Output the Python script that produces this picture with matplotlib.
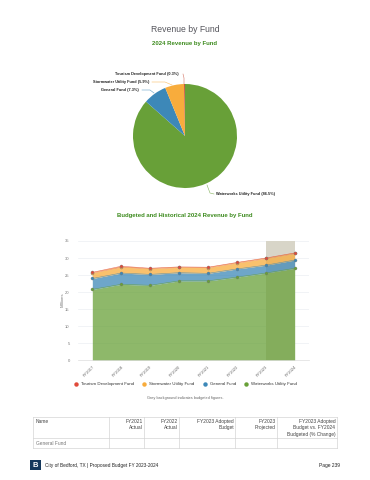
import numpy as np
import matplotlib
matplotlib.use('Agg')
import matplotlib.pyplot as plt
from matplotlib.patches import Rectangle

plt.rcParams['font.family'] = ['Liberation Sans', 'DejaVu Sans']

W, H = 370, 480

pie_labels = ['Waterworks Utility Fund (86.5%)', 'General Fund (7.3%)',
              'Stormwater Utility Fund (5.9%)', 'Tourism Development Fund (0.3%)']
pie_values = [86.5, 7.3, 5.9, 0.3]
pie_colors = ['#68a038', '#3d88b8', '#f8ac3c', '#c8503c']

years = ['FY2017', 'FY2018', 'FY2019', 'FY2020', 'FY2021', 'FY2022', 'FY2023', 'FY2024']
waterworks = [20.8, 22.3, 22.0, 23.3, 23.3, 24.4, 25.6, 27.0]
general = [3.2, 3.3, 3.2, 2.4, 2.2, 2.4, 2.3, 2.4]
stormwater = [1.7, 1.8, 1.7, 1.6, 1.7, 1.8, 2.0, 2.0]
tourism = [0.1, 0.2, 0.1, 0.1, 0.1, 0.1, 0.1, 0.1]
y_ticks = [0, 5, 10, 15, 20, 25, 30, 35]

table_header = ['Name', 'FY2021\nActual', 'FY2022\nActual', 'FY2023 Adopted\nBudget',
                'FY2023\nProjected', 'FY2023 Adopted\nBudget vs. FY2024\nBudgeted (% Change)']
table_row = 'General Fund'

fig = plt.figure(figsize=(W / 100, H / 100), dpi=100)

# page layer in pixel coordinates
page = fig.add_axes([0, 0, 1, 1])
page.set_xlim(0, W)
page.set_ylim(H, 0)
page.axis('off')


def rect_px(left, top, right, bottom):
    return [left / W, 1 - bottom / H, (right - left) / W, (bottom - top) / H]


page.text(185, 30, 'Revenue by Fund', fontsize=6.2, color='#55555c', ha='center', va='center')
page.text(185, 44, '2024 Revenue by Fund', fontsize=4.3, fontweight='bold', color='#3d8b1e', ha='center', va='center')
page.text(185, 215, 'Budgeted and Historical 2024 Revenue by Fund', fontsize=4.3, fontweight='bold',
          color='#3d8b1e', ha='center', va='center')

# pie
ax_pie = fig.add_axes(rect_px(133, 84, 237, 188))
ax_pie.pie(pie_values, colors=pie_colors, startangle=90, counterclock=False, radius=1)
ax_pie.set_xlim(-1, 1)
ax_pie.set_ylim(-1, 1)

pie_text = [(216, 194, 'left'), (139, 90, 'right'), (149, 82, 'right'), (179, 74.5, 'right')]
leaders = [([207, 210, 214], [185, 193, 194]), ([142, 150, 154], [90, 90, 93]),
           ([152, 165, 172], [82, 82, 85]), ([183, 184, 184], [74, 78, 84])]
for lab, (tx, ty, ha), (lx, ly), col in zip(pie_labels, pie_text, leaders, pie_colors):
    page.text(tx, ty, lab, fontsize=2.75, color='#222222', ha=ha, va='center', fontweight='bold')
    page.plot(lx, ly, color=col, lw=0.4, alpha=0.8)

# stacked area
ax = fig.add_axes(rect_px(78, 241, 309, 360.3))
x = np.arange(len(years))
c1 = np.array(waterworks)
c2 = c1 + np.array(general)
c3 = c2 + np.array(stormwater)
c4 = c3 + np.array(tourism)
layers = [(np.zeros(len(x)), c1, '#68a038'), (c1, c2, '#3d88b8'), (c2, c3, '#f8ac3c'), (c3, c4, '#e04a3a')]
ax.axvspan(6, 7, color='#d8d5c8', lw=0, zorder=1)
for low, high, col in layers:
    ax.fill_between(x, low, high, color=col, alpha=0.75, lw=0, zorder=2)
    ax.plot(x, high, color=col, lw=0.4, alpha=0.8, zorder=3)
    ax.plot(x, high, 'o', ms=2.2, mfc=col, mec='#777777', mew=0.25, zorder=4)
ax.set_xlim(-0.495, 7.495)
ax.set_ylim(0, 35)
ax.set_xticks(x)
ax.set_xticklabels(years, rotation=45, ha='right', rotation_mode='anchor', fontsize=3, color='#666666')
ax.set_yticks(y_ticks)
ax.tick_params(axis='y', labelsize=3, labelcolor='#777777', length=0, pad=6)
ax.tick_params(axis='x', length=0, pad=3)
ax.grid(axis='y', color='#eceff3', lw=0.5)
ax.set_axisbelow(True)
for s in ['top', 'right', 'left']:
    ax.spines[s].set_visible(False)
ax.spines['bottom'].set_color('#dddddd')
ax.spines['bottom'].set_linewidth(0.5)
ax.patch.set_alpha(0)
page.text(63, 300, 'Millions', fontsize=3.2, color='#777777', rotation=90, ha='center', va='center')

# legend
legend_names = ['Tourism Development Fund', 'Stormwater Utility Fund', 'General Fund', 'Waterworks Utility Fund']
legend_colors = ['#e04a3a', '#f8ac3c', '#3d88b8', '#68a038']
legend_x = [75.7, 144.3, 205, 245.7]
for name, col, lx in zip(legend_names, legend_colors, legend_x):
    page.plot([lx], [384.3], 'o', ms=3.2, color=col, mew=0)
    page.text(lx + 5, 384.3, name, fontsize=3.2, color='#333333', va='center')

page.text(185, 398.5, 'Grey background indicates budgeted figures.', fontsize=2.8, color='#666666',
          ha='center', va='center')

# table
tx = [33.3, 109.3, 144.3, 179.3, 235.3, 277.3, 336.7]
ty = [416.7, 438.3, 447.7]
for v in tx:
    page.plot([v, v], [ty[0], ty[-1]], color='#d4d4d4', lw=0.5)
for v in ty:
    page.plot([tx[0], tx[-1]], [v, v], color='#d4d4d4', lw=0.5)
page.text(tx[0] + 2.5, 419, table_header[0], fontsize=3.5, color='#444444', va='top')
for i in range(1, 6):
    page.text(tx[i + 1] - 1.5, 419, table_header[i], fontsize=3.5, color='#444444', va='top',
              ha='right', linespacing=1.35)
page.text(tx[0] + 2.5, 443.2, table_row, fontsize=3.5, color='#777777', va='center')

# footer
page.add_patch(Rectangle((30, 460), 10.7, 10, color='#15385c', lw=0))
page.text(35.3, 465.2, 'B', fontsize=5.5, fontweight='bold', color='white', ha='center', va='center')
page.text(44.7, 465, 'City of Bedford, TX | Proposed Budget FY 2023-2024', fontsize=3.45, color='#222222', va='center')
page.text(340, 465, 'Page 239', fontsize=3.5, color='#222222', ha='right', va='center')

fig.savefig('out.png', dpi=100)
